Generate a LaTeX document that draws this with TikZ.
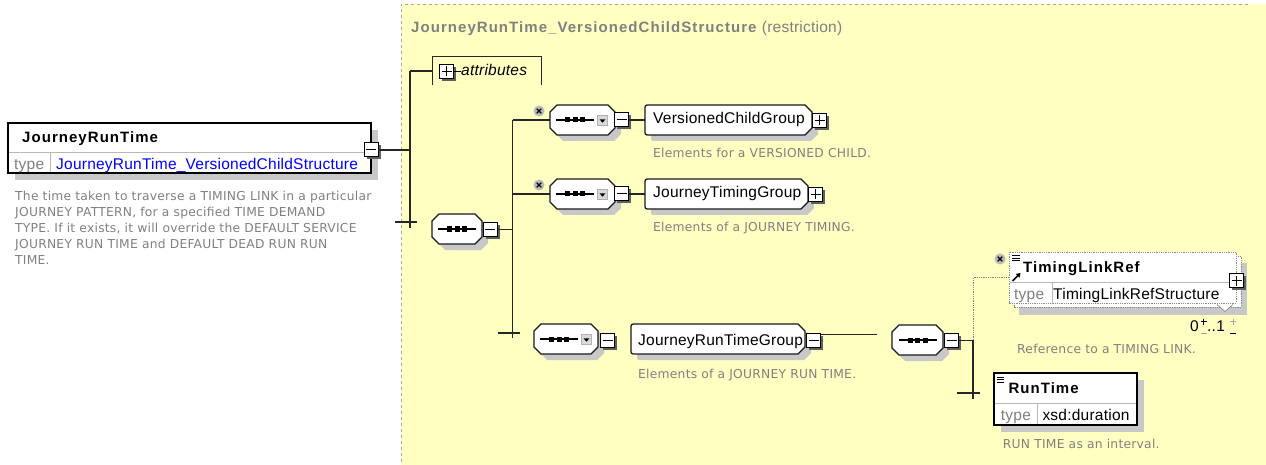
\documentclass[tikz,border=0pt]{standalone}
\usepackage{fontspec}
\setmainfont{Liberation Sans}
\newfontfamily\lbl[LetterSpace=1.5]{Liberation Sans}
\newfontfamily\bld[LetterSpace=7]{Liberation Sans}
\newfontfamily\dsc[LetterSpace=2]{DejaVu Sans}
\usetikzlibrary{arrows.meta}
\pgfdeclarelayer{back}
\pgfdeclarelayer{bg}
\pgfsetlayers{back,bg,main}
\definecolor{panel}{RGB}{255,255,194}
\definecolor{pborder}{RGB}{165,165,165}
\definecolor{dgray}{RGB}{128,128,128}
\definecolor{shad}{RGB}{200,200,200}
\definecolor{pmshad}{RGB}{95,95,95}
\definecolor{xgray}{RGB}{185,185,185}
\definecolor{lnk}{RGB}{0,0,255}

\newcommand\octP[2]{([shift={(#2,0)}]#1.north west) -- ([shift={(-#2,0)}]#1.north east) -- ([shift={(0,#2)}]#1.north east) -- ([shift={(0,-#2)}]#1.south east) -- ([shift={(-#2,0)}]#1.south east) -- ([shift={(#2,0)}]#1.south west) -- ([shift={(0,-#2)}]#1.south west) -- ([shift={(0,#2)}]#1.north west) -- cycle}
\newcommand\grpP[2]{([shift={(5,0)}]#1.north west) -- ([shift={(-#2,0)}]#1.north east) -- ([shift={(0,#2)}]#1.north east) -- ([shift={(0,-#2)}]#1.south east) -- ([shift={(-#2,0)}]#1.south east) -- ([shift={(5,0)}]#1.south west) .. controls (#1.south west) .. ([shift={(0,-5)}]#1.south west) -- ([shift={(0,5)}]#1.north west) .. controls (#1.north west) .. ([shift={(5,0)}]#1.north west) -- cycle}
\newcommand\pmminus[3]{\fill[pmshad] ({#2-4.5},{#3-4.5}) rectangle ++(14,14);
  \node[pm] (#1) at (#2,#3) {};
  \draw[line width=1pt] ([xshift=-5pt]#1.center) -- ([xshift=5pt]#1.center);}
\newcommand\pmplus[3]{\pmminus{#1}{#2}{#3}
  \draw[line width=1pt] ([yshift=-5pt]#1.center) -- ([yshift=5pt]#1.center);}
\newcommand\seqicon[1]{\draw[line width=1.1pt] ([xshift=-19pt]#1) -- ([xshift=19pt]#1);
  \foreach \d in {-7.5,0,7.5} \fill ([shift={(\d-2.5,-2.5)}]#1) rectangle ([shift={(\d+2.5,2.5)}]#1);}
\newcommand\ddic[1]{\filldraw[fill=black!15, draw=black!30, line width=0.5pt] ([shift={(-5,-5)}]#1) rectangle ([shift={(5,5)}]#1);
  \fill ([shift={(-3,-1.2)}]#1) -- ([shift={(3,-1.2)}]#1) -- ([shift={(0,2.2)}]#1) -- cycle;}
\newcommand\xmk[1]{\draw[line width=1.2pt] ([shift={(-2.3,-2.3)}]#1.center) -- ([shift={(2.3,2.3)}]#1.center) ([shift={(-2.3,2.3)}]#1.center) -- ([shift={(2.3,-2.3)}]#1.center);}
\newcommand\menuic[3]{\foreach \k in {0,2.6,5.2} \draw[line width=0.9pt] (#1,{#2+\k}) -- ++(#3,0);}

\tikzset{
  holder/.style={rectangle, draw=none, inner sep=0pt, outer sep=0pt},
  pm/.style={rectangle, draw=black, fill=white, line width=1pt, minimum width=14pt, minimum height=14pt, inner sep=0pt, outer sep=0pt},
  conn/.style={line width=1.3pt, draw=black!85},
  lab/.style={inner sep=0pt, anchor=base west, font=\lbl\fontsize{15.5}{18}\selectfont},
  blab/.style={inner sep=0pt, anchor=base west, font=\bld\bfseries\fontsize{15}{18}\selectfont},
  desc/.style={inner sep=0pt, anchor=base west, text=dgray, font=\dsc\fontsize{12.3}{16}\selectfont},
  outline/.style={line width=1.3pt, draw=black!90, fill=white},
  shadowfill/.style={fill=shad, transform canvas={xshift=6pt,yshift=-6pt}},
  xcirc/.style={circle, fill=xgray, minimum size=11pt, inner sep=0pt},
  optbox/.style={densely dotted, draw=black!45, fill=white, line width=0.8pt},
  divider/.style={draw=black!28, line width=0.8pt}
}

\begin{document}
\begin{tikzpicture}[x=1pt,y=-1pt]
\useasboundingbox (0,0) rectangle (1266,465);

% panel
\begin{pgfonlayer}{back}
\fill[panel] (401,4) rectangle (1266,465);
\draw[pborder, dashed, line width=0.8pt] (1266,4) -- (401,4) -- (401,465);
\end{pgfonlayer}

\node[blab, text=dgray] (title) at (411,33) {JourneyRunTime\_VersionedChildStructure};
\node[lab, text=dgray] (restr) at ([xshift=5pt]title.base east) {(restriction)};

% JourneyRunTime element
\node[holder, minimum width=363pt, minimum height=50pt] (jrt) at (189.5,148) {};
\begin{pgfonlayer}{bg}
\fill[shad] ([shift={(7,7)}]jrt.north west) rectangle ([shift={(7,7)}]jrt.south east);
\end{pgfonlayer}
\draw[line width=1.5pt, fill=white] (jrt.north west) rectangle (jrt.south east);
\draw[divider] ([shift={(1,29)}]jrt.north west) -- ([shift={(-1,29)}]jrt.north east);
\draw[divider] ([shift={(42,29)}]jrt.north west) -- ([shift={(42,-1)}]jrt.south west);
\node[blab] (jrtname) at (22,143) {JourneyRunTime};
\node[lab, text=dgray] (jrttype) at (14,169.5) {type};
\node[lab, text=lnk] (jrtlink) at (56,169.5) {JourneyRunTime\_VersionedChildStructure};
\pmminus{jrtm}{371}{150}
\node[desc, anchor=north west, align=left] (jrtdesc) at (15,191) {The time taken to traverse a TIMING LINK in a particular\\JOURNEY PATTERN, for a specified TIME DEMAND\\TYPE. If it exists, it will override the DEFAULT SERVICE\\JOURNEY RUN TIME and DEFAULT DEAD RUN RUN\\TIME.};

% spine 1
\coordinate (s1a) at (410,71);
\coordinate (s1b) at (410,228);
\coordinate (t1) at (410,222);
\draw[conn] (s1a) -- (s1b);
\draw[conn] ([xshift=-15pt]t1) -- ([xshift=7pt]t1);
\draw[conn] (jrtm.east) -- (jrtm.east -| s1a);

% attributes
\node[holder, minimum width=109pt, minimum height=28pt] (attr) at (486.5,71) {};
\draw[line width=1pt, black!85] (attr.south west) -- (attr.north west) -- (attr.north east) -- (attr.south east);
\draw[conn] (s1a) -- (attr.west);
\pmplus{attrp}{446.5}{71.5}
\node[lab, font=\lbl\itshape\fontsize{15.5}{18}\selectfont] (attrt) at (461,76) {attributes};
\draw[line width=1pt] (attrp.east) -- (attrp.east -| attrt.west);

% sequence A
\node[holder, minimum width=50pt, minimum height=30pt] (sA) at (457,229) {};
\begin{pgfonlayer}{bg}\fill[shadowfill] \octP{sA}{7};\end{pgfonlayer}
\draw[outline] \octP{sA}{7};
\seqicon{sA.center}
\pmminus{sAm}{490}{229.5}

% spine 2
\coordinate (s2a) at (512.5,120);
\coordinate (s2b) at (512.5,338);
\coordinate (t2) at (512.5,333);
\draw[conn] (sAm.east) -- (sAm.east -| s2a);
\draw[conn] (s2a) -- (s2b);
\draw[conn] ([xshift=-15pt]t2) -- ([xshift=7pt]t2);

% branch 1
\node[holder, minimum width=65pt, minimum height=30pt] (oB1) at (582.5,120) {};
\begin{pgfonlayer}{bg}\fill[shadowfill] \octP{oB1}{7};\end{pgfonlayer}
\draw[outline] \octP{oB1}{7};
\coordinate (iB1) at (575,120);
\coordinate (ddB1) at (602.5,120.5);
\seqicon{iB1}
\ddic{ddB1}
\draw[conn] (oB1.west -| s2a) -- (oB1.west);
\node[xcirc] (xB1) at (539,111) {};
\xmk{xB1}
\pmminus{mB1}{621.5}{120}
\node[holder, minimum width=167pt, minimum height=30pt] (gB1) at (728.5,120) {};
\draw[conn] (mB1.east) -- (gB1.west);
\begin{pgfonlayer}{bg}\fill[shadowfill] \grpP{gB1}{7};\end{pgfonlayer}
\draw[outline] \grpP{gB1}{7};
\pmplus{pB1}{819.5}{120.5}
\node[lab] (tB1) at (653,124) {VersionedChildGroup};
\node[desc] (dB1) at (653,158) {Elements for a VERSIONED CHILD.};

% branch 2
\node[holder, minimum width=65pt, minimum height=30pt] (oB2) at (582.5,194) {};
\begin{pgfonlayer}{bg}\fill[shadowfill] \octP{oB2}{7};\end{pgfonlayer}
\draw[outline] \octP{oB2}{7};
\coordinate (iB2) at (575,194);
\coordinate (ddB2) at (602.5,194.5);
\seqicon{iB2}
\ddic{ddB2}
\draw[conn] (oB2.west -| s2a) -- (oB2.west);
\node[xcirc] (xB2) at (539,185) {};
\xmk{xB2}
\pmminus{mB2}{621.5}{194}
\node[holder, minimum width=163pt, minimum height=30pt] (gB2) at (726.5,194) {};
\draw[conn] (mB2.east) -- (gB2.west);
\begin{pgfonlayer}{bg}\fill[shadowfill] \grpP{gB2}{7};\end{pgfonlayer}
\draw[outline] \grpP{gB2}{7};
\pmplus{pB2}{815.5}{194.5}
\node[lab] (tB2) at (653,198) {JourneyTimingGroup};
\node[desc] (dB2) at (653,231.5) {Elements of a JOURNEY TIMING.};

% branch 3
\node[holder, minimum width=64pt, minimum height=30pt] (oB3) at (566,339) {};
\begin{pgfonlayer}{bg}\fill[shadowfill] \octP{oB3}{7};\end{pgfonlayer}
\draw[outline] \octP{oB3}{7};
\coordinate (iB3) at (559,339);
\coordinate (ddB3) at (586.5,339.5);
\seqicon{iB3}
\ddic{ddB3}
\pmminus{mB3}{607.5}{340.5}
\node[holder, minimum width=174pt, minimum height=30pt] (gB3) at (718,339) {};
\begin{pgfonlayer}{bg}\fill[shadowfill] \grpP{gB3}{7};\end{pgfonlayer}
\draw[outline] \grpP{gB3}{7};
\pmminus{mG3}{813.5}{340.5}
\node[lab] (tB3) at (638,345) {JourneyRunTimeGroup};
\node[desc] (dB3) at (638,378) {Elements of a JOURNEY RUN TIME.};
\coordinate (c3end) at (877,334.5);
\draw[conn] (mG3.east |- c3end) -- (c3end);

% sequence C
\node[holder, minimum width=51pt, minimum height=30pt] (oC) at (917.5,340) {};
\begin{pgfonlayer}{bg}\fill[shadowfill] \octP{oC}{7};\end{pgfonlayer}
\draw[outline] \octP{oC}{7};
\seqicon{oC.center}
\pmminus{mC}{951.5}{340.5}

% spine 3
\coordinate (s3a) at (973,340);
\coordinate (s3b) at (973,399);
\coordinate (t3) at (973,393);
\draw[conn] (mC.east) -- (mC.east -| s3a);
\draw[conn] (s3a) -- (s3b);
\draw[conn] ([xshift=-16pt]t3) -- ([xshift=7pt]t3);

% TimingLinkRef
\node[holder, minimum width=227pt, minimum height=51pt] (tlr) at (1122.5,277.5) {};
\begin{pgfonlayer}{bg}
\fill[shad] ([shift={(10,11)}]tlr.north west) rectangle ([shift={(11,12)}]tlr.south east);
\end{pgfonlayer}
\draw[optbox] ([shift={(5,4)}]tlr.north west) rectangle ([shift={(5,4)}]tlr.south east);
\draw[optbox] (tlr.north west) rectangle (tlr.south east);
\draw[densely dotted, black!50, line width=0.8pt] (s3a) |- (tlr.west);
\draw[divider] ([shift={(1,30)}]tlr.north west) -- ([shift={(-1,30)}]tlr.north east);
\draw[divider] ([shift={(43,30)}]tlr.north west) -- ([shift={(43,-1)}]tlr.south west);
\draw[black!45, fill=white, line width=0.7pt] (1217,304.5) -- (1225,311.5) -- (1233,304.5);
\menuic{1012}{255.5}{8}
\draw[line width=1.6pt, -{Triangle[length=4pt,width=5pt]}] (1012.5,281) -- (1020.5,273);
\node[blab] (tlrname) at (1023,272.5) {TimingLinkRef};
\node[lab, text=dgray] (tlrtype) at (1014,299) {type};
\node[lab] (tlrstruct) at (1053,299) {TimingLinkRefStructure};
\pmplus{tlrp}{1236.5}{280.5}
\node[xcirc] (xT) at (1000,259) {};
\xmk{xT}
\node[lab] (m0) at (1190,331) {0};
\node[lab] (m1) at (1207,331) {..1};
\draw[line width=1pt] (1200.5,321.5) -- (1206.5,321.5) (1203.5,318.5) -- (1203.5,324.5);
\draw[line width=1pt, black!35] (1200.5,333) -- (1206.5,333);
\draw[line width=1pt, black!35] (1230,321.5) -- (1236,321.5) (1233,318.5) -- (1233,324.5);
\draw[line width=1pt] (1230,333) -- (1236,333);
\node[desc] (dT) at (1017,353) {Reference to a TIMING LINK.};

% RunTime
\node[holder, minimum width=143pt, minimum height=52pt] (rt) at (1065.5,399) {};
\begin{pgfonlayer}{bg}
\fill[shad] ([shift={(7,7)}]rt.north west) rectangle ([shift={(7,7)}]rt.south east);
\end{pgfonlayer}
\draw[line width=1.5pt, fill=white] (rt.north west) rectangle (rt.south east);
\draw[divider] ([shift={(1,30)}]rt.north west) -- ([shift={(-1,30)}]rt.north east);
\draw[divider] ([shift={(43,30)}]rt.north west) -- ([shift={(43,-1)}]rt.south west);
\menuic{997}{377}{7}
\node[blab] (rtname) at (1008.3,393) {RunTime};
\node[lab, text=dgray] (rttype) at (1000.7,420.5) {type};
\node[lab] (rtdur) at (1042.3,420.5) {xsd:duration};
\node[desc] (dR) at (1002.7,448) {RUN TIME as an interval.};

% right strip of the panel
\fill[panel] (1250,4.5) rectangle (1266,465);

\end{tikzpicture}
\end{document}
